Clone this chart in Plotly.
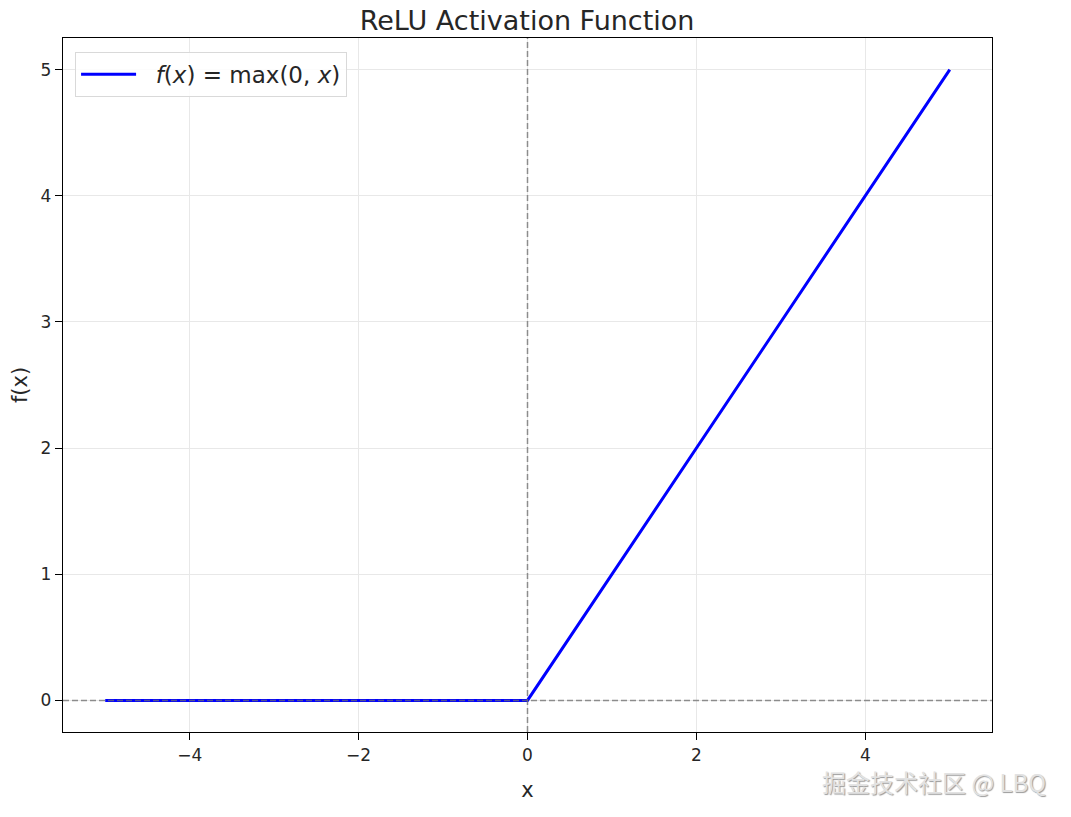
import plotly.graph_objects as go

# ReLU curve
x_vals = [-5, 0, 5]
y_vals = [0, 0, 5]

x_ticks = [-4, -2, 0, 2, 4]
x_tick_labels = ["−4", "−2", "0", "2", "4"]
y_ticks = [0, 1, 2, 3, 4, 5]

FONT = "DejaVu Sans"
TEXT = "#262626"

fig = go.Figure()
fig.add_trace(
    go.Scatter(
        x=x_vals,
        y=y_vals,
        mode="lines",
        line=dict(color="#0000ff", width=3),
        name="\u00a0\u00a0<i>f</i>(<i>x</i>) = max(0, <i>x</i>)",
    )
)

# dashed reference lines through the origin
ref_line = dict(color="rgba(110,110,110,0.75)", width=1.5, dash="6px,3px")
fig.add_hline(y=0, line=ref_line, layer="above")
fig.add_vline(x=0, line=ref_line, layer="above")

axis_common = dict(
    showline=True,
    linecolor="black",
    linewidth=1.4,
    mirror=True,
    ticks="outside",
    ticklen=7,
    tickwidth=1.4,
    tickcolor="black",
    showgrid=True,
    gridcolor="#e8e8e8",
    gridwidth=1,
    zeroline=False,
    automargin=False,
    tickfont=dict(family=FONT, size=17, color=TEXT),
)

fig.update_xaxes(
    range=[-5.5, 5.5],
    tickvals=x_ticks,
    ticktext=x_tick_labels,
    title=dict(text="x", font=dict(family=FONT, size=21, color=TEXT), standoff=18),
    **axis_common,
)
fig.update_yaxes(
    range=[-0.25, 5.25],
    tickvals=y_ticks,
    title=dict(text="f(x)", font=dict(family=FONT, size=21, color=TEXT), standoff=9),
    **axis_common,
)

fig.update_layout(
    width=1055,
    height=801,
    paper_bgcolor="white",
    plot_bgcolor="white",
    margin=dict(l=55, r=71, t=30, b=77),
    title=dict(
        text="ReLU Activation Function",
        x=0.492,
        xanchor="center",
        y=0.984,
        yanchor="middle",
        font=dict(family=FONT, size=27, color=TEXT),
    ),
    legend=dict(
        x=0.013,
        y=0.980,
        xanchor="left",
        yanchor="top",
        bgcolor="rgba(255,255,255,0.85)",
        bordercolor="#d9d9d9",
        borderwidth=1,
        itemwidth=55,
        font=dict(family=FONT, size=23, color=TEXT),
    ),
    showlegend=True,
)

# watermark in the bottom-right corner
fig.add_annotation(
    text="掘金技术社区 @ LBQ",
    xref="paper",
    yref="paper",
    x=1.060,
    y=-0.071,
    xanchor="right",
    yanchor="middle",
    showarrow=False,
    font=dict(family="Noto Sans CJK SC", size=24, color="#e2e2e2",
              shadow="1px 1px 1px #9a9a9a"),
)

fig.write_html("out.html")
